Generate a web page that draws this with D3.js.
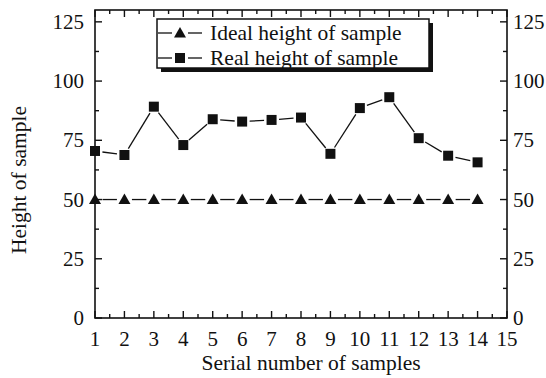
<!DOCTYPE html>
<html><head><meta charset="utf-8">
<script src="https://cdn.jsdelivr.net/npm/d3@7"></script>
<style>body{margin:0;background:#fff}svg{display:block}text{font-family:"Liberation Serif","Times New Roman",serif;fill:#111}</style>
</head><body><svg width="546" height="378"></svg>
<script>
const samples = [1,2,3,4,5,6,7,8,9,10,11,12,13,14];
const idealHeight = [50,50,50,50,50,50,50,50,50,50,50,50,50,50];
const realHeight = [70.5,68.8,89.2,73,83.9,82.9,83.6,84.6,69.3,88.6,93.2,75.9,68.5,65.7];
const xTicks = [1,2,3,4,5,6,7,8,9,10,11,12,13,14,15];
const yTicks = [0,25,50,75,100,125];
const seriesNames = ["Ideal height of sample","Real height of sample"];

const svg = d3.select("svg");
const L=95,R=507,T=10,B=318;
const x = d3.scaleLinear().domain([1,15]).range([L,R]);
const y = d3.scaleLinear().domain([0,130]).range([B,T]);
const ink="#111";

svg.append("rect").attr("x",L).attr("y",T).attr("width",R-L).attr("height",B-T)
  .attr("fill","none").attr("stroke",ink).attr("stroke-width",1.6);

const g = svg.append("g");
const xMinor = d3.range(1.5,15,1);
xTicks.forEach(v=>{
  g.append("line").attr("x1",x(v)).attr("x2",x(v)).attr("y1",B).attr("y2",B-7).attr("stroke",ink).attr("stroke-width",1.4);
  g.append("line").attr("x1",x(v)).attr("x2",x(v)).attr("y1",T).attr("y2",T+7).attr("stroke",ink).attr("stroke-width",1.4);
  g.append("text").attr("x",x(v)).attr("y",346).attr("text-anchor","middle").attr("font-size",21).text(v);
});
xMinor.forEach(v=>{
  g.append("line").attr("x1",x(v)).attr("x2",x(v)).attr("y1",B).attr("y2",B-4).attr("stroke",ink).attr("stroke-width",1.4);
  g.append("line").attr("x1",x(v)).attr("x2",x(v)).attr("y1",T).attr("y2",T+4).attr("stroke",ink).attr("stroke-width",1.4);
});
const yMinor = d3.range(12.5,130,25);
yTicks.forEach(v=>{
  g.append("line").attr("x1",L).attr("x2",L+7).attr("y1",y(v)).attr("y2",y(v)).attr("stroke",ink).attr("stroke-width",1.4);
  g.append("line").attr("x1",R).attr("x2",R-7).attr("y1",y(v)).attr("y2",y(v)).attr("stroke",ink).attr("stroke-width",1.4);
  g.append("text").attr("x",84).attr("y",y(v)+7).attr("text-anchor","end").attr("font-size",21).text(v);
  g.append("text").attr("x",513).attr("y",y(v)+7).attr("text-anchor","start").attr("font-size",21).text(v);
});
yMinor.forEach(v=>{
  g.append("line").attr("x1",L).attr("x2",L+4).attr("y1",y(v)).attr("y2",y(v)).attr("stroke",ink).attr("stroke-width",1.4);
  g.append("line").attr("x1",R).attr("x2",R-4).attr("y1",y(v)).attr("y2",y(v)).attr("stroke",ink).attr("stroke-width",1.4);
});

svg.append("text").attr("x",311).attr("y",370).attr("text-anchor","middle").attr("font-size",21.5).text("Serial number of samples");
svg.append("text").attr("transform","translate(26,"+((T+B)/2+16)+") rotate(-90)").attr("text-anchor","middle").attr("font-size",21.5).text("Height of sample");

function segs(vals, gap){
  const out=[];
  for(let i=0;i<vals.length-1;i++){
    const x1=x(samples[i]),y1=y(vals[i]),x2=x(samples[i+1]),y2=y(vals[i+1]);
    const dx=x2-x1,dy=y2-y1,len=Math.hypot(dx,dy);
    const ux=dx/len,uy=dy/len;
    out.push([x1+ux*gap,y1+uy*gap,x2-ux*gap,y2-uy*gap]);
  }
  return out;
}
function drawSeries(vals, marker){
  svg.append("g").selectAll("line").data(segs(vals,7.5)).join("line")
    .attr("x1",d=>d[0]).attr("y1",d=>d[1]).attr("x2",d=>d[2]).attr("y2",d=>d[3])
    .attr("stroke",ink).attr("stroke-width",1.3);
  svg.append("g").selectAll("path").data(vals).join("path")
    .attr("transform",(d,i)=>"translate("+x(samples[i])+","+y(d)+")")
    .attr("d",marker).attr("fill",ink);
}
const tri = "M0,-6L6,4.5L-6,4.5Z";
const sq = "M-5,-5H5V5H-5Z";
drawSeries(idealHeight, tri);
drawSeries(realHeight, sq);

const lg = svg.append("g");
lg.append("rect").attr("x",161).attr("y",23).attr("width",272).attr("height",49).attr("fill",ink);
lg.append("rect").attr("x",157).attr("y",19).attr("width",272).attr("height",49).attr("fill","#fff").attr("stroke",ink).attr("stroke-width",1.5);
[tri,sq].forEach((m,i)=>{
  const cy = 33+i*25;
  lg.append("line").attr("x1",158).attr("x2",172).attr("y1",cy).attr("y2",cy).attr("stroke",ink).attr("stroke-width",1.3);
  lg.append("line").attr("x1",188).attr("x2",202).attr("y1",cy).attr("y2",cy).attr("stroke",ink).attr("stroke-width",1.3);
  lg.append("path").attr("transform","translate(180,"+cy+")").attr("d",m).attr("fill",ink);
  lg.append("text").attr("x",210).attr("y",cy+7).attr("font-size",21.5).text(seriesNames[i]);
});
</script></body></html>
